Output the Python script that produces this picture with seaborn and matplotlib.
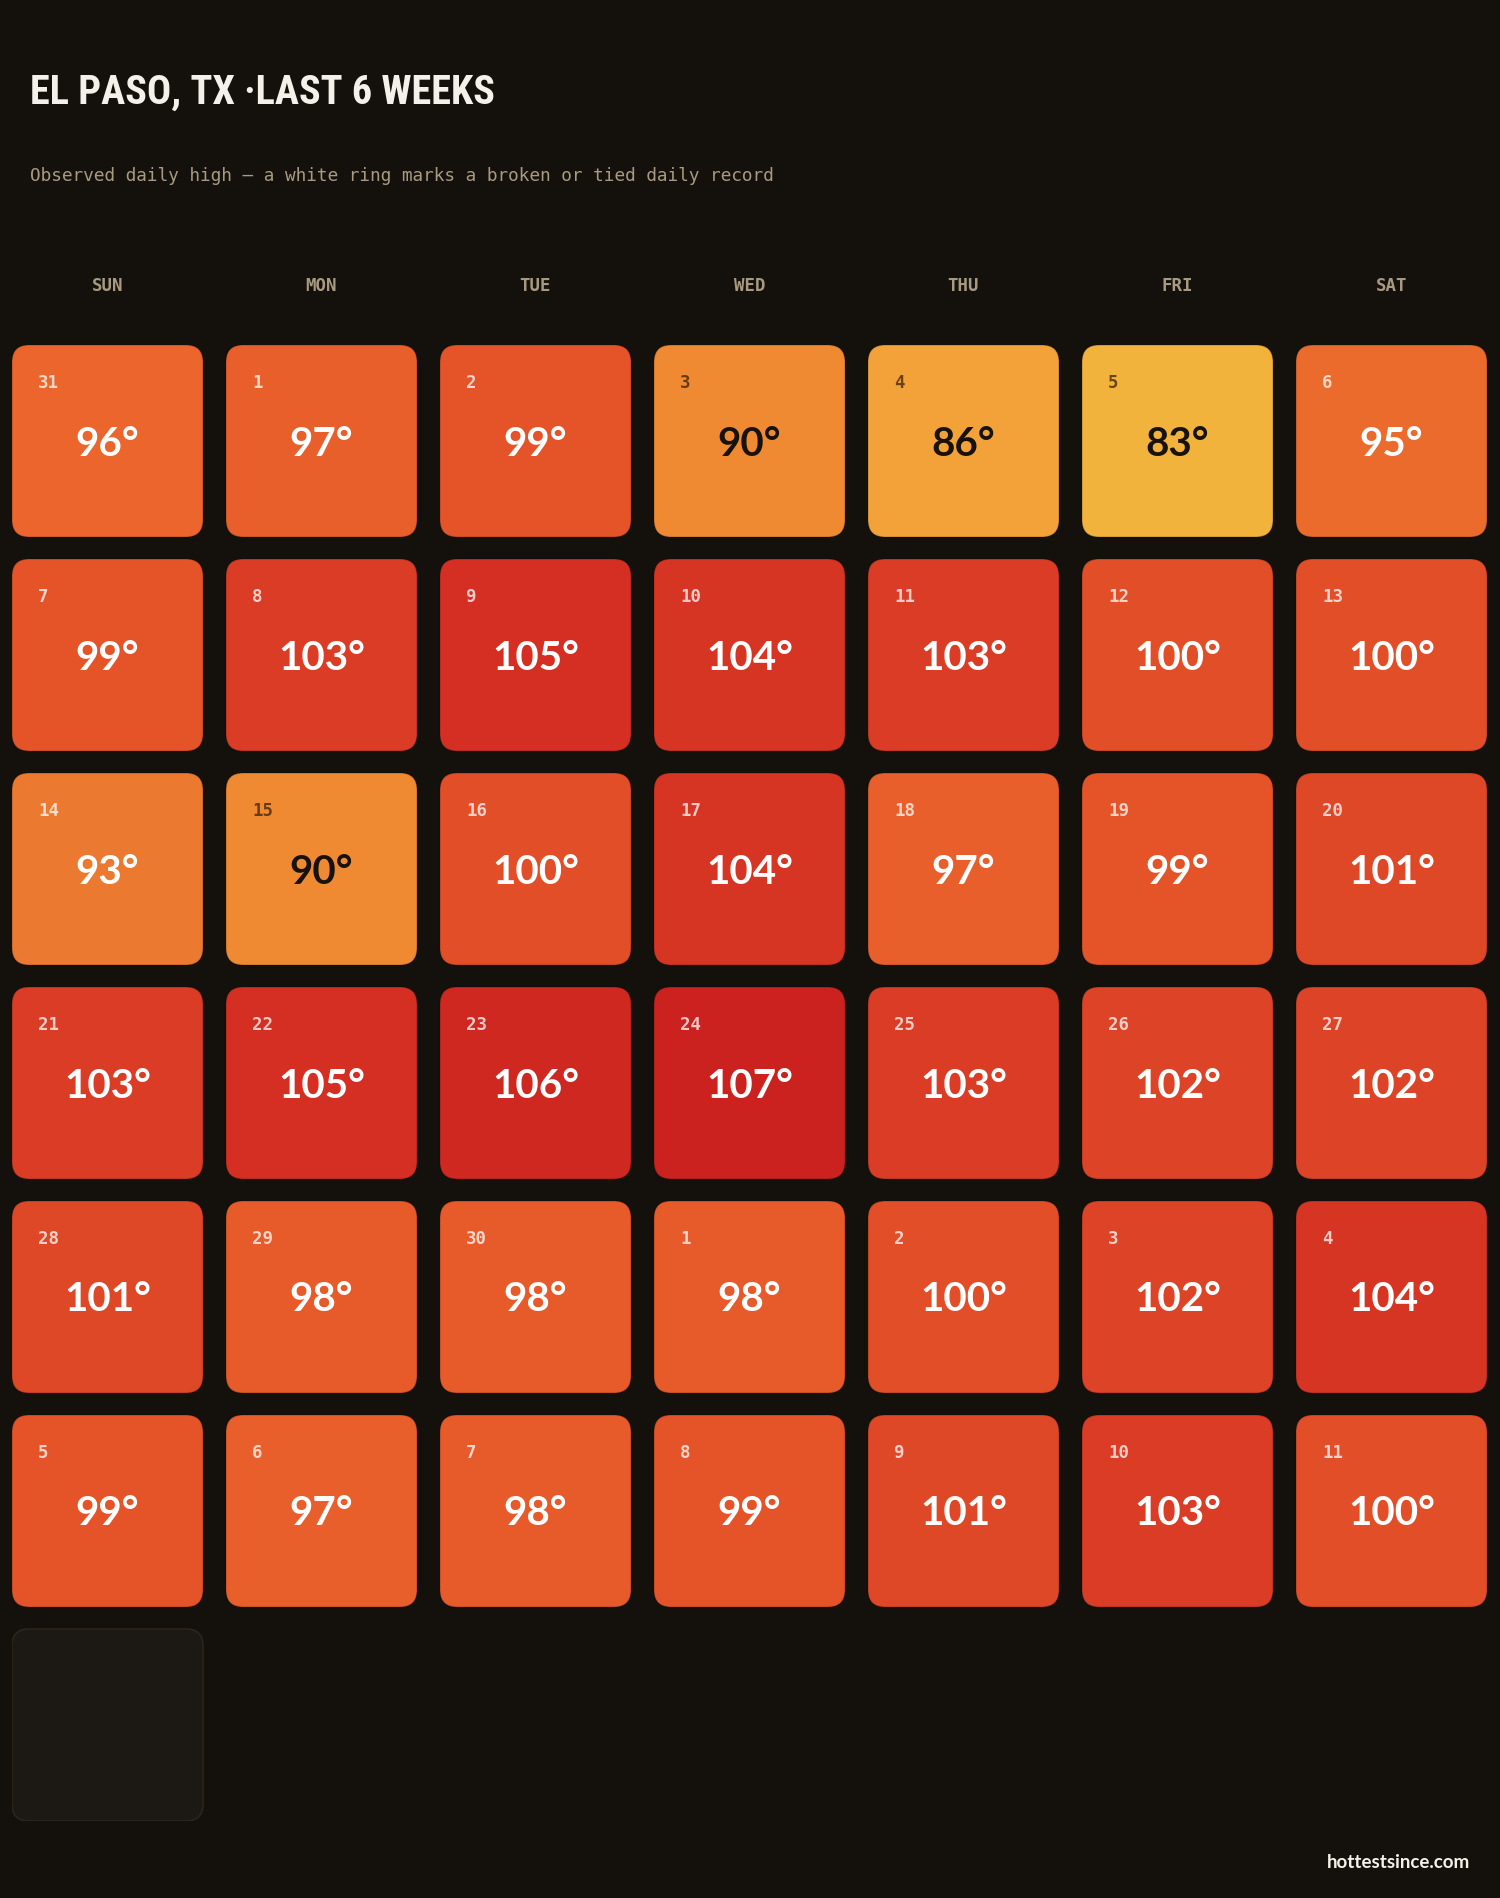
import numpy as np
import pandas as pd
import seaborn as sns
import matplotlib
matplotlib.use("Agg")
import matplotlib.pyplot as plt
from matplotlib.patches import FancyBboxPatch
from matplotlib.colors import LinearSegmentedColormap
from matplotlib import font_manager as fm

# ---------------- data ----------------
day_names = ["SUN", "MON", "TUE", "WED", "THU", "FRI", "SAT"]
day_numbers = [31, 1, 2, 3, 4, 5, 6,
               7, 8, 9, 10, 11, 12, 13,
               14, 15, 16, 17, 18, 19, 20,
               21, 22, 23, 24, 25, 26, 27,
               28, 29, 30, 1, 2, 3, 4,
               5, 6, 7, 8, 9, 10, 11]
highs = [96, 97, 99, 90, 86, 83, 95,
         99, 103, 105, 104, 103, 100, 100,
         93, 90, 100, 104, 97, 99, 101,
         103, 105, 106, 107, 103, 102, 102,
         101, 98, 98, 98, 100, 102, 104,
         99, 97, 98, 99, 101, 103, 100]
records = [False] * len(highs)
empty_slots = 1  # trailing empty day slots

title = "EL PASO, TX \u00b7LAST 6 WEEKS"
subtitle = "Observed daily high \u2014 a white ring marks a broken or tied daily record"
footer = "hottestsince.com"

# ---------------- style ----------------
BG = "#14110d"
sns.set_theme(style="dark", rc={"figure.facecolor": BG, "axes.facecolor": BG})


def pick(fams):
    for f in fams:
        try:
            fm.findfont(fm.FontProperties(family=f), fallback_to_default=False)
            return f
        except Exception:
            continue
    return "DejaVu Sans"


title_font = pick(["Liberation Sans Narrow", "Roboto Condensed", "DejaVu Sans"])
num_font = pick(["Lato", "Open Sans", "DejaVu Sans"])
mono_font = pick(["DejaVu Sans Mono", "Liberation Mono"])
plt.rcParams["font.family"] = [num_font, "DejaVu Sans"]

cmap = LinearSegmentedColormap.from_list(
    "heat",
    [(0.00, "#f1b33c"), (0.125, "#f3a23a"), (0.29, "#ef8a33"),
     (0.42, "#ec7830"), (0.54, "#eb652c"), (0.67, "#e55428"),
     (0.79, "#dd4326"), (0.92, "#d42f22"), (1.00, "#cb2220")])
vmin, vmax = 83, 107

df = pd.DataFrame({"day": day_numbers, "high": highs, "record": records})
df["col"] = np.arange(len(df)) % 7
df["row"] = np.arange(len(df)) // 7

W, H = 1500, 1899
fig = plt.figure(figsize=(W / 100, H / 100), dpi=100, facecolor=BG)
pitch = 214.0
cw = 191.0 / pitch
ch = 192.0 / pitch
nrows = 7
left_px, top_px = 12, 346
ax_w = 6 * pitch + 191
ax_h = (nrows - 1) * pitch + 192
ax = fig.add_axes([left_px / W, 1 - (top_px + ax_h) / H, ax_w / W, ax_h / H])
ax.set_facecolor(BG)
ax.set_xlim(0, 6 + cw)
ax.set_ylim((nrows - 1) + ch, 0)
for s in ax.spines.values():
    s.set_visible(False)
ax.grid(False)

rad = 17 / pitch
for _, r in df.iterrows():
    c, rw = r["col"], r["row"]
    color = cmap((r["high"] - vmin) / (vmax - vmin))
    p = FancyBboxPatch((c, rw), cw, ch,
                       boxstyle=f"round,pad=0,rounding_size={rad}",
                       facecolor=color, edgecolor=(0, 0, 0, 0.18), linewidth=1.0)
    ax.add_patch(p)
    dark = r["high"] <= 90
    txt = "#17120c" if dark else "white"
    sub = (0.18, 0.1, 0.03, 0.7) if dark else (1, 1, 1, 0.75)
    ax.text(c + 26 / pitch, rw + 37 / pitch, str(r["day"]), color=sub,
            fontsize=12.5, family=mono_font, fontweight="bold",
            ha="left", va="center")
    ax.text(c + cw / 2, rw + ch / 2 + 2 / pitch, f"{r['high']}\u00b0", color=txt,
            fontsize=29, fontweight="bold", ha="center", va="center")
    if r["record"]:
        ring = FancyBboxPatch((c + 0.02, rw + 0.02), cw - 0.04, ch - 0.04,
                              boxstyle=f"round,pad=0,rounding_size={rad}",
                              facecolor="none", edgecolor="white", linewidth=3)
        ax.add_patch(ring)

# empty trailing slots
n = len(df)
for k in range(empty_slots):
    idx = n + k
    ax.add_patch(FancyBboxPatch((idx % 7, idx // 7), cw, ch,
                                boxstyle=f"round,pad=0,rounding_size={rad}",
                                facecolor="#1c1813", edgecolor="#2b251d", linewidth=1.2))

# weekday header as top tick labels
ax.xaxis.tick_top()
ax.set_xticks(np.arange(7) + cw / 2)
ax.set_xticklabels(day_names, family=mono_font, fontweight="bold",
                   fontsize=12.5, color="#a89a80")
ax.tick_params(axis="x", length=0, pad=36.5)
ax.set_yticks([])

fig.text(30 / W, 1 - 93 / H, title, color="#f4f1ea", fontsize=29,
         fontweight="bold", family=[title_font, "DejaVu Sans"], ha="left", va="center")
fig.text(30 / W, 1 - 176 / H, subtitle, color="#a89a80", fontsize=12.8,
         family=[mono_font], ha="left", va="center")
fig.text(1470 / W, 1 - 1863 / H, footer, color="#f4f1ea", fontsize=13.5,
         fontweight="bold", ha="right", va="center")

fig.savefig("out.png", dpi=100, facecolor=BG)
